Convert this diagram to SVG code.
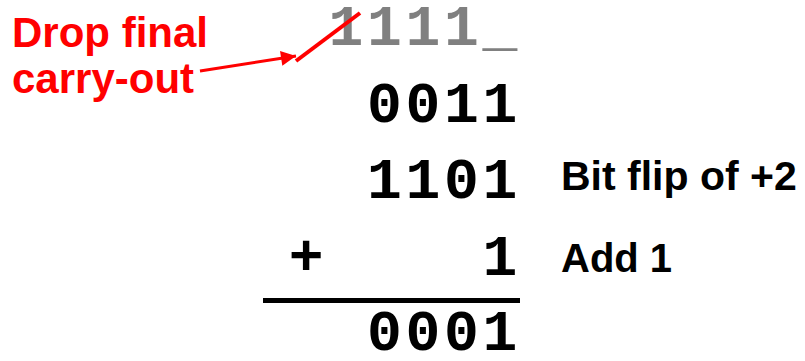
<svg xmlns="http://www.w3.org/2000/svg" width="805" height="361" viewBox="0 0 805 361">
  <style>
    .mono { font-family: "Liberation Mono", "Courier New", monospace; font-weight: bold; font-size: 58px; letter-spacing: 3.7px; text-anchor: end; }
    .lbl { font-family: "Liberation Sans", Arial, sans-serif; font-weight: bold; font-size: 40px; fill: #000; }
    .red { font-family: "Liberation Sans", Arial, sans-serif; font-weight: bold; font-size: 42px; fill: #FF0000; }
  </style>
  <defs>
    <marker id="ah" viewBox="0 0 10 10" refX="10" refY="5" markerWidth="6" markerHeight="5" markerUnits="strokeWidth" orient="auto">
      <path d="M0,0 L10,5 L0,10 z" fill="#FF0000"/>
    </marker>
  </defs>
  <rect width="805" height="361" fill="#FFFFFF"/>
  <g id="carry-row">
    <text class="mono" x="521" y="45" fill="#808080">1111_</text>
  </g>
  <g id="row-0011">
    <text class="mono" x="521" y="122" fill="#000">0011</text>
  </g>
  <g id="row-1101">
    <text class="mono" x="521" y="198" fill="#000">1101</text>
    <text class="lbl" x="561" y="190" style="font-size:41px">Bit flip of +2</text>
  </g>
  <g id="row-add1">
    <text class="mono" x="308" y="275" fill="#000" style="text-anchor:middle">+</text>
    <text class="mono" x="521" y="275" fill="#000">1</text>
    <text class="lbl" x="561" y="272">Add 1</text>
  </g>
  <g id="sum-line">
    <rect x="263" y="298" width="257" height="5" fill="#000"/>
  </g>
  <g id="row-0001">
    <text class="mono" x="521" y="350" fill="#000">0001</text>
  </g>
  <g id="note">
    <text class="red" x="12" y="47">Drop final</text>
    <text class="red" x="12" y="93">carry-out</text>
  </g>
  <g id="connectors">
    <line x1="296" y1="61" x2="360" y2="13" stroke="#FF0000" stroke-width="4"/>
    <line x1="200" y1="71" x2="296" y2="56" stroke="#FF0000" stroke-width="3" marker-end="url(#ah)"/>
  </g>
</svg>
